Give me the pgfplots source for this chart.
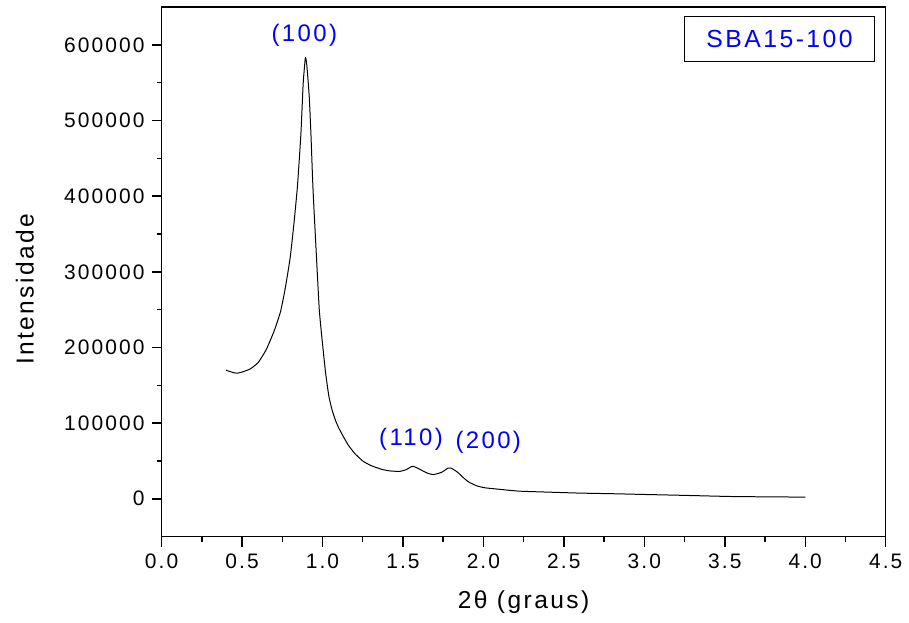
\documentclass[border=0pt]{standalone}
\usepackage{fontspec}
\setmainfont{Liberation Sans}[LetterSpace=10]
\usepackage{pgfplots}
\pgfplotsset{compat=1.18}

\begin{document}
\begin{tikzpicture}
\begin{axis}[
    name=main,
    scale only axis,
    width=363pt, height=265.5pt,
    xmin=0, xmax=4.5,
    ymin=-50000, ymax=650000,
    xtick={0,0.5,...,4.5},
    minor x tick num=1,
    ytick={0,100000,200000,300000,400000,500000,600000},
    minor y tick num=1,
    tick align=outside,
    tick pos=left,
    major tick length=5pt,
    minor tick length=2.5pt,
    axis line style={line width=0.75pt},
    every tick/.style={black, line width=0.75pt},
    /pgf/number format/assume math mode=true,
    scaled y ticks=false,
    yticklabel style={/pgf/number format/.cd, fixed, precision=0, 1000 sep={}, /tikz/.cd, font=\fontsize{10.5}{12}\selectfont},
    xticklabel style={/pgf/number format/.cd, fixed, fixed zerofill, precision=1, /tikz/.cd, font=\fontsize{10.5}{12}\selectfont},
    xlabel={2θ (graus)},
    ylabel={Intensidade},
    xlabel style={font=\fontsize{12.3}{14}\selectfont, at={(axis description cs:0.5,-0.1243)}, anchor=center},
    ylabel style={font=\fontsize{12.3}{14}\selectfont, at={(axis description cs:-0.1887,0.467)}, anchor=center},
    clip=false,
]
\addplot[black, line width=0.5pt, smooth, tension=0.3] coordinates {
(0.40,170000) (0.42,168500) (0.45,166500) (0.47,166000) (0.50,167500)
(0.55,171500) (0.60,180000) (0.65,197000) (0.70,222000) (0.74,248000)
(0.77,280000) (0.80,320000) (0.825,369000) (0.845,415000) (0.866,483000)
(0.88,549000) (0.893,582000) (0.90,578000) (0.907,562000) (0.918,530000)
(0.928,483000) (0.938,425000) (0.944,396000) (0.959,334000) (0.98,250000)
(1.00,205000) (1.02,165000) (1.04,135000) (1.06,117000) (1.08,104000)
(1.10,94000) (1.13,82000) (1.16,71000) (1.20,60000) (1.25,50000)
(1.30,44000) (1.37,38800) (1.42,36800)
(1.48,36200) (1.52,38500) (1.56,43000) (1.60,39500) (1.65,34000)
(1.69,32000) (1.74,35000) (1.78,40500) (1.80,40500) (1.84,35000)
(1.88,27000) (1.91,22000) (1.96,17000) (2.01,14500) (2.10,12500)
(2.22,10100) (2.40,8800) (2.60,7500) (2.80,6700) (3.00,5700)
(3.25,4500) (3.54,3000) (3.80,2500) (4.00,2200)
};
\node[text=blue, font=\fontsize{12}{14}\selectfont] at (axis cs:0.887,613000) {(100)};
\node[text=blue, font=\fontsize{12}{14}\selectfont] at (axis cs:1.55,79000) {(110)};
\node[text=blue, font=\fontsize{12}{14}\selectfont] at (axis cs:2.03,75000) {(200)};
\node[draw=black, line width=0.5pt, anchor=north east, minimum width=95pt, minimum height=22.5pt,
      text=blue, font=\fontsize{12.4}{14}\selectfont] at (rel axis cs:0.985,0.983) {SBA15-100};
\end{axis}
\path (main.south west) ++(-81pt,-43pt) rectangle ++(454.5pt,312pt);
\end{tikzpicture}
\end{document}
